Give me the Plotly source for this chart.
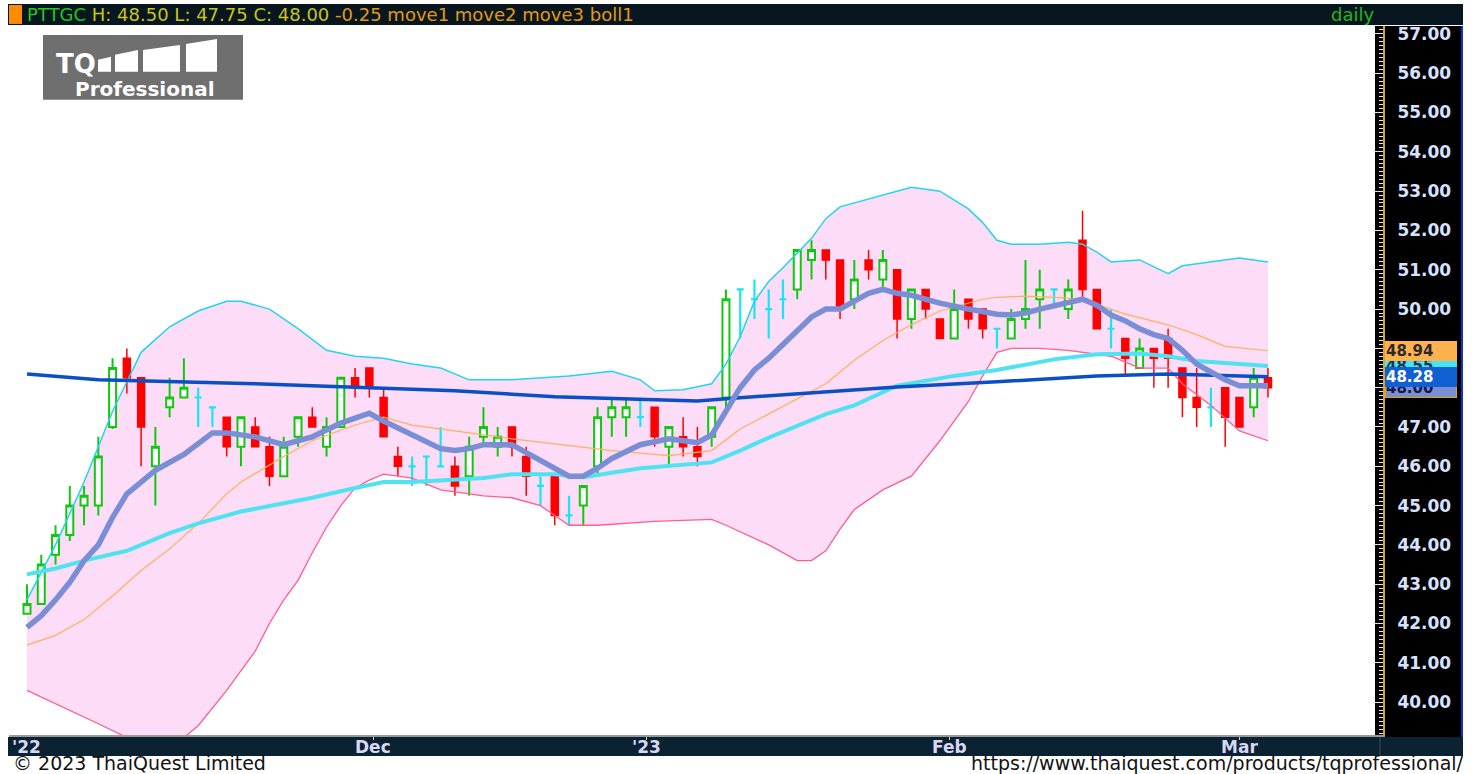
import plotly.graph_objects as go

W, H = 1479, 774

# ---------------- data ----------------
opens = [42.25, 42.5, 43.75, 44.25, 45.0, 45.0, 47.0, 48.75, 48.25, 46.0,
         47.5, 47.75, 47.75, 47.5, 47.25, 46.5, 47.0, 46.5, 45.75, 46.75,
         47.25, 46.5, 47.0, 48.25, 48.5, 47.75, 46.25, 46.0, 46.25, 46.0,
         46.0, 45.75, 46.75, 46.5, 47.0, 46.25, 45.5, 45.75, 44.75, 45.0,
         46.0, 47.25, 47.25, 47.25, 47.5, 46.5, 46.75, 46.5, 46.75, 47.75,
         50.5, 50.25, 50.0, 50.25, 50.5, 51.25, 51.5, 51.25, 50.25, 51.25,
         50.75, 51.0, 49.75, 50.5, 49.75, 49.25, 50.25, 50.0, 49.5, 49.25,
         49.75, 50.25, 50.5, 50.0, 51.75, 50.5, 49.5, 49.25, 48.5, 49.0,
         49.25, 48.5, 47.75, 47.5, 48.0, 47.75, 47.5, 48.25]
highs = [43.0, 43.75, 44.5, 45.5, 45.5, 46.75, 48.75, 49.0, 48.25, 47.0,
         48.25, 48.75, 48.0, 47.5, 47.25, 47.25, 47.25, 46.75, 46.75, 47.25,
         47.5, 47.25, 48.25, 48.5, 48.5, 48.0, 46.5, 46.25, 46.25, 47.0,
         46.25, 46.75, 47.5, 47.0, 47.0, 46.5, 45.75, 45.75, 45.25, 45.5,
         47.5, 47.75, 47.75, 47.75, 47.5, 47.0, 47.25, 47.0, 47.5, 50.5,
         50.5, 50.75, 50.5, 50.75, 51.5, 51.75, 51.5, 51.25, 51.25, 51.5,
         51.5, 51.0, 50.5, 50.5, 49.75, 50.5, 50.25, 50.0, 49.5, 50.0,
         51.25, 51.0, 50.5, 50.75, 52.5, 50.5, 50.0, 49.25, 49.25, 49.0,
         49.5, 48.5, 48.5, 48.0, 48.0, 47.75, 48.5, 48.5]
lows = [42.25, 42.5, 43.5, 44.1, 44.5, 44.75, 46.95, 47.85, 46.0, 45.0,
        47.25, 47.75, 47.0, 47.0, 46.25, 46.0, 46.5, 45.5, 45.75, 46.5,
        47.0, 46.25, 47.0, 47.75, 47.75, 46.75, 45.75, 45.5, 45.5, 46.0,
        45.25, 45.25, 46.5, 46.25, 46.25, 45.25, 45.0, 44.5, 44.5, 44.5,
        45.75, 46.75, 46.75, 47.0, 46.5, 46.0, 46.25, 46.0, 46.5, 47.5,
        49.25, 49.75, 49.25, 49.75, 50.25, 50.75, 50.75, 49.75, 50.0, 50.75,
        50.5, 49.25, 49.5, 49.75, 49.25, 49.25, 49.5, 49.25, 49.0, 49.25,
        49.5, 49.5, 50.1, 49.75, 50.25, 49.5, 49.0, 48.35, 48.5, 48.0,
        48.0, 47.25, 47.0, 47.0, 46.5, 47.0, 47.25, 47.75]
closes = [42.5, 43.5, 44.25, 45.0, 45.25, 46.25, 48.5, 48.25, 47.0, 46.5,
          47.75, 48.0, 47.75, 47.5, 46.5, 47.25, 46.5, 45.75, 46.5, 47.25,
          47.0, 47.0, 48.25, 48.0, 48.0, 46.75, 46.0, 46.0, 46.25, 46.0,
          45.5, 46.5, 47.0, 46.75, 46.5, 45.75, 45.5, 44.75, 44.75, 45.5,
          47.25, 47.5, 47.5, 47.25, 46.75, 47.0, 46.5, 46.25, 47.5, 50.25,
          50.5, 50.25, 50.0, 50.25, 51.5, 51.5, 51.25, 50.0, 50.75, 51.0,
          51.25, 49.75, 50.5, 50.0, 49.25, 50.0, 49.75, 49.5, 49.5, 49.75,
          50.0, 50.5, 50.5, 50.5, 50.5, 49.5, 49.5, 48.75, 49.0, 48.75,
          48.75, 47.75, 47.5, 47.5, 47.25, 47.0, 48.25, 48.0]

move1_idx = [0, 1, 2, 3, 4, 5, 6, 7, 8, 9, 11, 13, 14, 15, 16, 18, 20, 22, 24, 25,
             27, 29, 30, 31, 32, 34, 35, 36, 37, 38, 39, 40, 41, 43, 45, 47, 48, 49,
             50, 51, 52, 53, 54, 55, 56, 57, 58, 59, 60, 61, 62, 63, 64, 66, 68, 69,
             70, 71, 73, 74, 75, 76, 77, 78, 79, 80, 81, 82, 83, 84, 85, 86, 87]
move1_val = [41.9, 42.2, 42.6, 43.05, 43.6, 44.0, 44.7, 45.3, 45.6, 45.9, 46.3, 46.85,
             46.85, 46.8, 46.75, 46.55, 46.75, 47.1, 47.35, 47.15, 46.8, 46.45, 46.4,
             46.45, 46.55, 46.55, 46.35, 46.15, 45.95, 45.75, 45.75, 45.95, 46.2,
             46.55, 46.7, 46.6, 46.8, 47.4, 48.0, 48.45, 48.75, 49.1, 49.45, 49.8,
             50.0, 50.0, 50.2, 50.4, 50.5, 50.4, 50.35, 50.25, 50.15, 50.0, 49.87,
             49.85, 49.9, 50.0, 50.15, 50.25, 50.1, 49.85, 49.7, 49.5, 49.35, 49.25,
             48.95, 48.6, 48.4, 48.2, 48.05, 48.05, 48.05]

move2_idx = [0, 2, 4, 6, 8, 10, 12, 14, 15, 18, 20, 23, 25, 27, 30, 32, 34, 37, 41,
             45, 48, 50, 52, 56, 58, 60, 62, 64, 67, 68, 70, 73, 75, 77, 80, 82, 84, 87]
move2_val = [41.45, 41.7, 42.1, 42.7, 43.35, 43.9, 44.55, 45.3, 45.6, 46.25, 46.65,
             47.05, 47.25, 47.05, 46.9, 46.8, 46.7, 46.57, 46.4, 46.27, 46.4, 46.95,
             47.33, 48.1, 48.7, 49.2, 49.6, 49.95, 50.25, 50.3, 50.33, 50.28, 50.12,
             49.87, 49.6, 49.35, 49.05, 48.94]

move3_idx = [0, 2, 4, 7, 10, 12, 15, 18, 20, 23, 25, 27, 30, 32, 34, 37, 39, 43, 48,
             50, 52, 56, 58, 61, 65, 68, 72, 75, 78, 80, 82, 85, 87]
move3_val = [43.25, 43.4, 43.6, 43.85, 44.3, 44.55, 44.85, 45.05, 45.2, 45.45, 45.6,
             45.6, 45.65, 45.7, 45.8, 45.8, 45.72, 45.95, 46.1, 46.4, 46.73, 47.33,
             47.55, 48.05, 48.3, 48.45, 48.72, 48.85, 48.87, 48.8, 48.68, 48.6, 48.55]

long_idx = [0, 5, 16, 25, 30, 37, 43, 47, 49, 56, 61, 68, 75, 80, 87]
long_val = [48.35, 48.2, 48.1, 47.98, 47.92, 47.77, 47.7, 47.66, 47.72, 47.89, 48.02,
            48.15, 48.3, 48.35, 48.28]

upper_idx = [0, 2, 4, 6, 7, 8, 10, 12, 14, 15, 17, 19, 21, 23, 25, 27, 29, 31, 34, 36,
             38, 41, 43, 44, 46, 48, 49, 50, 51, 52, 53, 55, 56, 57, 60, 62, 64, 66,
             67, 68, 69, 71, 73, 74, 75, 76, 78, 80, 81, 82, 85, 87]
upper_val = [42.6, 44.0, 45.6, 47.4, 48.15, 48.9, 49.55, 49.95, 50.2, 50.2, 50.0, 49.5,
             48.95, 48.8, 48.75, 48.6, 48.5, 48.2, 48.2, 48.25, 48.3, 48.42, 48.2, 47.92,
             47.95, 48.1, 48.6, 49.3, 50.2, 50.7, 51.05, 51.8, 52.3, 52.6, 52.9, 53.1,
             53.0, 52.55, 52.2, 51.75, 51.65, 51.65, 51.7, 51.65, 51.45, 51.2, 51.25,
             50.9, 51.1, 51.15, 51.3, 51.2]

lower_idx = [0, 3, 5, 7, 8, 10, 12, 14, 16, 17, 18, 19, 20, 21, 22, 23, 24, 25, 27, 29,
             32, 34, 36, 37, 38, 40, 44, 48, 49, 52, 54, 55, 56, 57, 58, 60, 62, 64,
             66, 67, 68, 69, 71, 73, 76, 78, 80, 81, 83, 85, 87]
lower_val = [40.3, 39.8, 39.45, 39.1, 38.9, 38.8, 39.4, 40.3, 41.3, 42.0, 42.6, 43.1,
             43.8, 44.45, 45.0, 45.45, 45.65, 45.8, 45.7, 45.4, 45.25, 45.2, 45.0, 44.75,
             44.5, 44.5, 44.6, 44.65, 44.5, 44.0, 43.6, 43.6, 43.85, 44.4, 44.9, 45.4,
             45.75, 46.65, 47.65, 48.3, 48.9, 49.0, 49.0, 48.95, 48.8, 48.5, 48.5, 48.1,
             47.55, 46.9, 46.65]

month_pos = [24.26, 43.4, 64.7, 85.0]
month_text = ["Dec", "'23", "Feb", "Mar"]
last_labels = [("48.00", 48.00, "#7b8fd6", "#1a1a40"),
               ("48.55", 48.55, "#44e6f4", "#20304a"),
               ("48.94", 48.94, "#ffb24e", "#2a2a2a"),
               ("48.28", 48.28, "#1060d4", "#ffffff")]

# ---------------- geometry helpers (paper coords from pixels) ----------------
def px(x):
    return x / W

def py(y):
    return 1 - y / H

X_PER_BAR = 14.264
X0_PIX = 27.0
PLOT_L, PLOT_R, PLOT_T, PLOT_B = 9, 1383, 24, 735
xr = [(PLOT_L - X0_PIX) / X_PER_BAR, (PLOT_R - X0_PIX) / X_PER_BAR]
PPU = 39.41
yr = [57 - (PLOT_B - 32) / PPU, 57 + (32 - PLOT_T) / PPU]

FONT = "DejaVu Sans"

fig = go.Figure()

# Bollinger fill on the base subplot (drawn underneath everything else)
fig.add_trace(go.Scatter(x=upper_idx, y=upper_val, mode="lines",
                         line=dict(width=0, color="rgba(0,0,0,0)"), hoverinfo="skip"))
fig.add_trace(go.Scatter(x=lower_idx, y=lower_val, mode="lines", fill="tonexty",
                         fillcolor="#fddcf7", line=dict(width=0, color="rgba(0,0,0,0)"),
                         hoverinfo="skip"))

# candles split into up / down / doji, on the overlay subplot
idx = list(range(len(opens)))
groups = {"up": [], "down": [], "doji": []}
for i in idx:
    if closes[i] > opens[i]:
        groups["up"].append(i)
    elif closes[i] < opens[i]:
        groups["down"].append(i)
    else:
        groups["doji"].append(i)

styles = {
    "up": ("#10c810", "#ffffff", 2),
    "down": ("#ff0000", "#ff0000", 1.5),
    "doji": ("#19e6f5", "#19e6f5", 2.2),
}
for key, sel in groups.items():
    lc, fc, lw = styles[key]
    fig.add_trace(go.Candlestick(
        x=sel,
        open=[opens[i] for i in sel], high=[highs[i] for i in sel],
        low=[lows[i] for i in sel], close=[closes[i] for i in sel],
        increasing=dict(line=dict(color=lc, width=lw), fillcolor=fc),
        decreasing=dict(line=dict(color=lc, width=lw), fillcolor=fc),
        whiskerwidth=0, hoverinfo="skip", showlegend=False,
        xaxis="x2", yaxis="y3"))

# band lines and moving averages (overlay subplot, above candles)
line_specs = [
    (lower_idx, lower_val, "#ff5f8c", 1.3),
    (upper_idx, upper_val, "#22d6e8", 1.5),
    (move2_idx, move2_val, "#ffb05a", 1.2),
    (move3_idx, move3_val, "#4fe2f2", 4),
    (long_idx, long_val, "#0a4fc4", 3.5),
    (move1_idx, move1_val, "#7a8ed6", 5.5),
]
for xs, ys, col, wd in line_specs:
    fig.add_trace(go.Scatter(x=xs, y=ys, mode="lines", line=dict(color=col, width=wd),
                             xaxis="x2", yaxis="y3", hoverinfo="skip"))

shapes = []
# header bar
shapes.append(dict(type="rect", xref="paper", yref="paper", x0=px(8), x1=px(1463),
                   y0=py(23), y1=py(2), fillcolor="#08171f", line=dict(width=0), layer="below"))
shapes.append(dict(type="rect", xref="paper", yref="paper", x0=px(9), x1=px(22),
                   y0=py(22), y1=py(3), fillcolor="#ff8c00", line=dict(width=0), layer="below"))
# right price panel
shapes.append(dict(type="rect", xref="paper", yref="paper", x0=px(1375), x1=px(1463),
                   y0=py(737), y1=py(24), fillcolor="#000000", line=dict(width=0), layer="below"))
shapes.append(dict(type="line", xref="paper", yref="paper", x0=px(1462), x1=px(1462),
                   y0=py(737), y1=py(24), line=dict(color="#1030d0", width=2)))
# bottom date bar
shapes.append(dict(type="rect", xref="paper", yref="paper", x0=px(8), x1=px(1463),
                   y0=py(756), y1=py(737), fillcolor="#0b2233", line=dict(width=0), layer="below"))
shapes.append(dict(type="line", xref="paper", yref="paper", x0=px(1380), x1=px(1380),
                   y0=py(756), y1=py(737), line=dict(color="#3a4a5a", width=1)))
# logo
shapes.append(dict(type="rect", xref="paper", yref="paper", x0=px(43), x1=px(243),
                   y0=py(98), y1=py(33), fillcolor="#6f6f6f", line=dict(width=0)))

def poly(pts):
    return "M " + " L ".join(f"{px(a):.5f},{py(b):.5f}" for a, b in pts) + " Z"

for pts in [[(98, 70), (98, 58), (111, 55), (111, 70)],
            [(115, 70), (115, 53), (138, 48), (138, 70)],
            [(143, 70), (143, 48), (180, 43), (180, 70)],
            [(186, 70), (186, 42), (217, 37), (217, 70)]]:
    shapes.append(dict(type="path", xref="paper", yref="paper", path=poly(pts),
                       fillcolor="#ffffff", line=dict(width=0)))

annotations = []
header = ("<span style='color:#1fc81f'>PTTGC</span> "
          "<span style='color:#c8c41c'>H: 48.50 L: 47.75 C: 48.00</span> "
          "<span style='color:#e39a10'>-0.25</span> "
          "<span style='color:#e39a10'>move1 move2 move3 boll1</span>")
annotations.append(dict(xref="paper", yref="paper", x=px(25), y=py(12.5), text=header,
                        showarrow=False, xanchor="left", yanchor="middle",
                        font=dict(family=FONT, size=18, color="#c8c41c")))
annotations.append(dict(xref="paper", yref="paper", x=px(1376), y=py(12.5), text="daily",
                        showarrow=False, xanchor="right", yanchor="middle",
                        font=dict(family=FONT, size=18, color="#1fb81f")))
# date labels
annotations.append(dict(xref="paper", yref="paper", x=px(10), y=py(746.5), text="'22",
                        showarrow=False, xanchor="left", yanchor="middle",
                        font=dict(family=FONT, size=17, color="#d8d8f4", weight="bold")))
for pos, txt in zip(month_pos, month_text):
    annotations.append(dict(xref="x", yref="paper", x=pos, y=py(746.5), text=txt,
                            showarrow=False, xanchor="center", yanchor="middle",
                            font=dict(family=FONT, size=17, color="#d8d8f4", weight="bold")))
# footer
annotations.append(dict(xref="paper", yref="paper", x=px(11), y=py(762.5), text="© 2023 ThaiQuest Limited",
                        showarrow=False, xanchor="left", yanchor="middle",
                        font=dict(family=FONT, size=19, color="#111111")))
annotations.append(dict(xref="paper", yref="paper", x=px(1466), y=py(762.5),
                        text="https://www.thaiquest.com/products/tqprofessional/",
                        showarrow=False, xanchor="right", yanchor="middle",
                        font=dict(family=FONT, size=19, color="#111111")))
# logo text
annotations.append(dict(xref="paper", yref="paper", x=px(54), y=py(62), text="TQ",
                        showarrow=False, xanchor="left", yanchor="middle",
                        font=dict(family=FONT, size=26, color="#ffffff", weight="bold")))
annotations.append(dict(xref="paper", yref="paper", x=px(145), y=py(87), text="Professional",
                        showarrow=False, xanchor="center", yanchor="middle",
                        font=dict(family=FONT, size=20, color="#ffffff", weight="bold")))
# last-value labels on the price axis
for txt, val, bg, fg in last_labels:
    annotations.append(dict(xref="paper", yref="y", x=px(1385), y=val, text=txt,
                            showarrow=False, xanchor="left", yanchor="middle",
                            bgcolor=bg, borderpad=0, width=70, align="left",
                            bordercolor="#e0a800" if txt == "48.00" else bg, borderwidth=1,
                            font=dict(family=FONT, size=15, color=fg, weight="bold")))

hidden = dict(showgrid=False, zeroline=False, showline=False, showticklabels=False,
              ticks="", fixedrange=True)

fig.update_layout(
    width=W, height=H, autosize=False,
    margin=dict(l=0, r=0, t=0, b=0),
    paper_bgcolor="#ffffff", plot_bgcolor="#ffffff",
    showlegend=False, shapes=shapes, annotations=annotations,
    xaxis=dict(domain=[px(PLOT_L), px(PLOT_R)], range=xr, showgrid=False, zeroline=False,
               showline=True, linecolor="#9a9a9a", linewidth=2,
               tickmode="array", tickvals=month_pos, ticks="outside", ticklen=3,
               tickcolor="#d0d0d0", showticklabels=False, rangeslider=dict(visible=False),
               fixedrange=True),
    xaxis2=dict(overlaying="x", anchor="y3", range=xr, rangeslider=dict(visible=False), **hidden),
    yaxis=dict(domain=[py(PLOT_B), py(PLOT_T)], range=yr, side="right", anchor="x",
               showgrid=False, zeroline=False, showline=True, linecolor="#d9a520", linewidth=2,
               tickmode="linear", tick0=0, dtick=1, tickformat=".2f",
               ticks="inside", ticklen=8, tickcolor="#e8e8e8", ticklabelstandoff=9,
               tickfont=dict(family=FONT, size=17, color="#d6e2ff", weight="bold"),
               minor=dict(tickmode="linear", tick0=0, dtick=0.1, ticks="inside",
                          ticklen=4, tickcolor="#e8e8e8")),
    yaxis2=dict(overlaying="y", side="left", anchor="x", range=yr, showgrid=False,
                zeroline=False, showline=True, linecolor="#000000", linewidth=1,
                tickmode="linear", tick0=0, dtick=1, ticks="inside", ticklen=8,
                tickcolor="#000000", showticklabels=False,
                minor=dict(tickmode="linear", tick0=0, dtick=0.1, ticks="inside",
                           ticklen=4, tickcolor="#000000")),
    yaxis3=dict(overlaying="y", anchor="x2", range=yr, **hidden),
)

fig.write_html("out.html", config={"displayModeBar": False, "staticPlot": True},
               post_script="document.body.style.margin='0px';"
                           "document.documentElement.style.overflow='hidden';")
